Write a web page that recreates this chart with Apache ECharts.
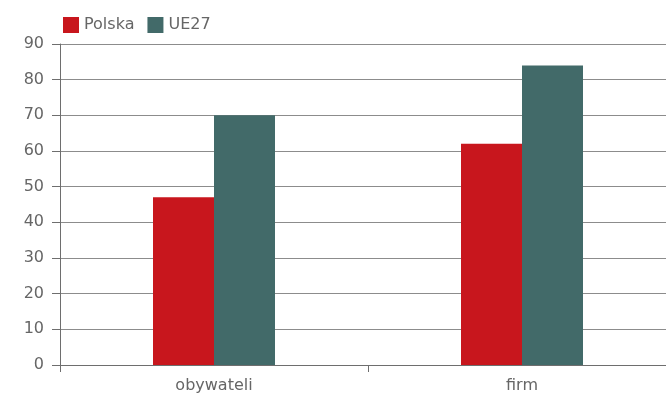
<!DOCTYPE html>
<html><head><meta charset="utf-8">
<script src="https://cdn.jsdelivr.net/npm/echarts@6/dist/echarts.min.js"></script>
<style>html,body{margin:0;padding:0;background:#fff;overflow:hidden}#c{width:676px;height:395px}</style>
</head><body><div id="c"></div>
<script>
var categories = ['obywateli', 'firm'];
var polska = [47, 62];
var ue27 = [70, 84];
var seriesNames = ['Polska', 'UE27'];

var chart = echarts.init(document.getElementById('c'), null, {renderer: 'canvas'});
var font = 'DejaVu Sans';
chart.setOption({
  animation: false,
  legend: {
    left: 58, top: 12, itemWidth: 16, itemHeight: 16, itemGap: 13,
    icon: 'rect',
    textStyle: {color: '#666', fontSize: 16, fontFamily: font},
    data: seriesNames
  },
  grid: {left: 60, top: 44, right: 0, height: 321},
  xAxis: {
    type: 'category', data: categories,
    axisLine: {lineStyle: {color: '#6e6e6e', width: 1}},
    axisTick: {show: true, length: 7, lineStyle: {color: '#6e6e6e'}},
    axisLabel: {color: '#666', fontSize: 16, fontFamily: font, margin: 13}
  },
  yAxis: {
    type: 'value', min: 0, max: 90, interval: 10,
    axisLine: {show: true, lineStyle: {color: '#6e6e6e', width: 1}},
    axisTick: {show: true, length: 8, lineStyle: {color: '#6e6e6e'}},
    axisLabel: {color: '#666', fontSize: 16, fontFamily: font, margin: 16},
    splitLine: {lineStyle: {color: '#8c8c8c', width: 1}}
  },
  series: [
    {name: seriesNames[0], type: 'bar', data: polska, barWidth: 61, barGap: '0%', itemStyle: {color: '#C8161D'}},
    {name: seriesNames[1], type: 'bar', data: ue27, barWidth: 61, barGap: '0%', itemStyle: {color: '#426A69'}}
  ]
});
</script></body></html>
